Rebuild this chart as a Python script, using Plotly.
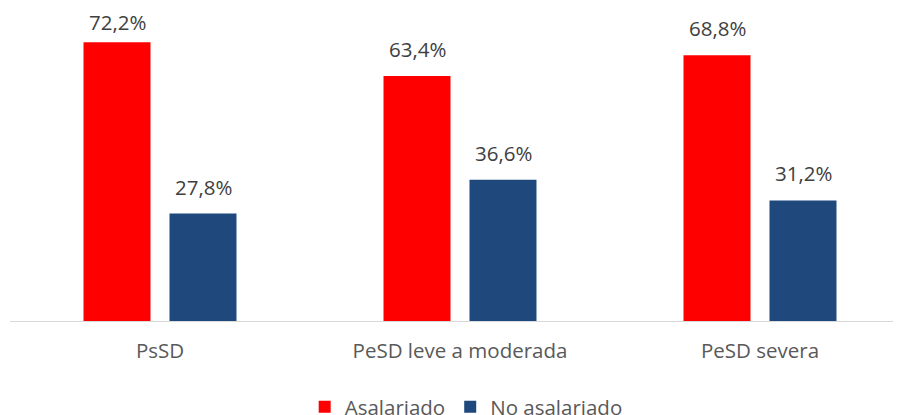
import plotly.graph_objects as go

categories = ["PsSD", "PeSD leve a moderada", "PeSD severa"]
asalariado = [72.2, 63.4, 68.8]
no_asalariado = [27.8, 36.6, 31.2]
series_names = ["Asalariado", "No asalariado"]

def fmt(v):
    return f"{v:.1f}".replace(".", ",") + "%"

FONT = "Open Sans"
FS = 20.5
Y_MAX = 80
PLOT_H = 309
ppu = PLOT_H / Y_MAX

fig = go.Figure()
fig.add_trace(go.Bar(x=categories, y=asalariado, name=series_names[0],
                     marker=dict(color="#FF0000", line=dict(width=0))))
fig.add_trace(go.Bar(x=categories, y=no_asalariado, name=series_names[1],
                     marker=dict(color="#1F497D", line=dict(width=0))))

annotations = []
for vals, shift in ((asalariado, -43), (no_asalariado, 43)):
    for c, v in zip(categories, vals):
        ys = min(11, (Y_MAX - v) * ppu - 26)
        annotations.append(dict(x=c, y=v, xref="x", yref="y", text=fmt(v),
                                showarrow=False, xshift=shift, yanchor="bottom",
                                yshift=ys, font=dict(family=FONT, size=FS, color="#404040")))

fig.update_layout(
    width=893, height=425,
    margin=dict(l=2, r=0, t=4, b=425 - 4 - PLOT_H),
    paper_bgcolor="white", plot_bgcolor="white",
    barmode="group", bargap=0.4267, bargroupgap=0.221,
    showlegend=True,
    legend=dict(orientation="h", x=0.512, xanchor="center", y=-0.278, yanchor="middle",
                font=dict(family=FONT, size=FS, color="#595959")),
    xaxis=dict(range=[-0.5, 2.47], showline=True, linecolor="#D9D9D9", linewidth=1,
               ticks="", showgrid=False, ticklabelstandoff=11,
               tickfont=dict(family=FONT, size=FS, color="#595959")),
    yaxis=dict(range=[0, Y_MAX], visible=False, showgrid=False, zeroline=False),
    annotations=annotations,
)
fig.write_html("out.html")
